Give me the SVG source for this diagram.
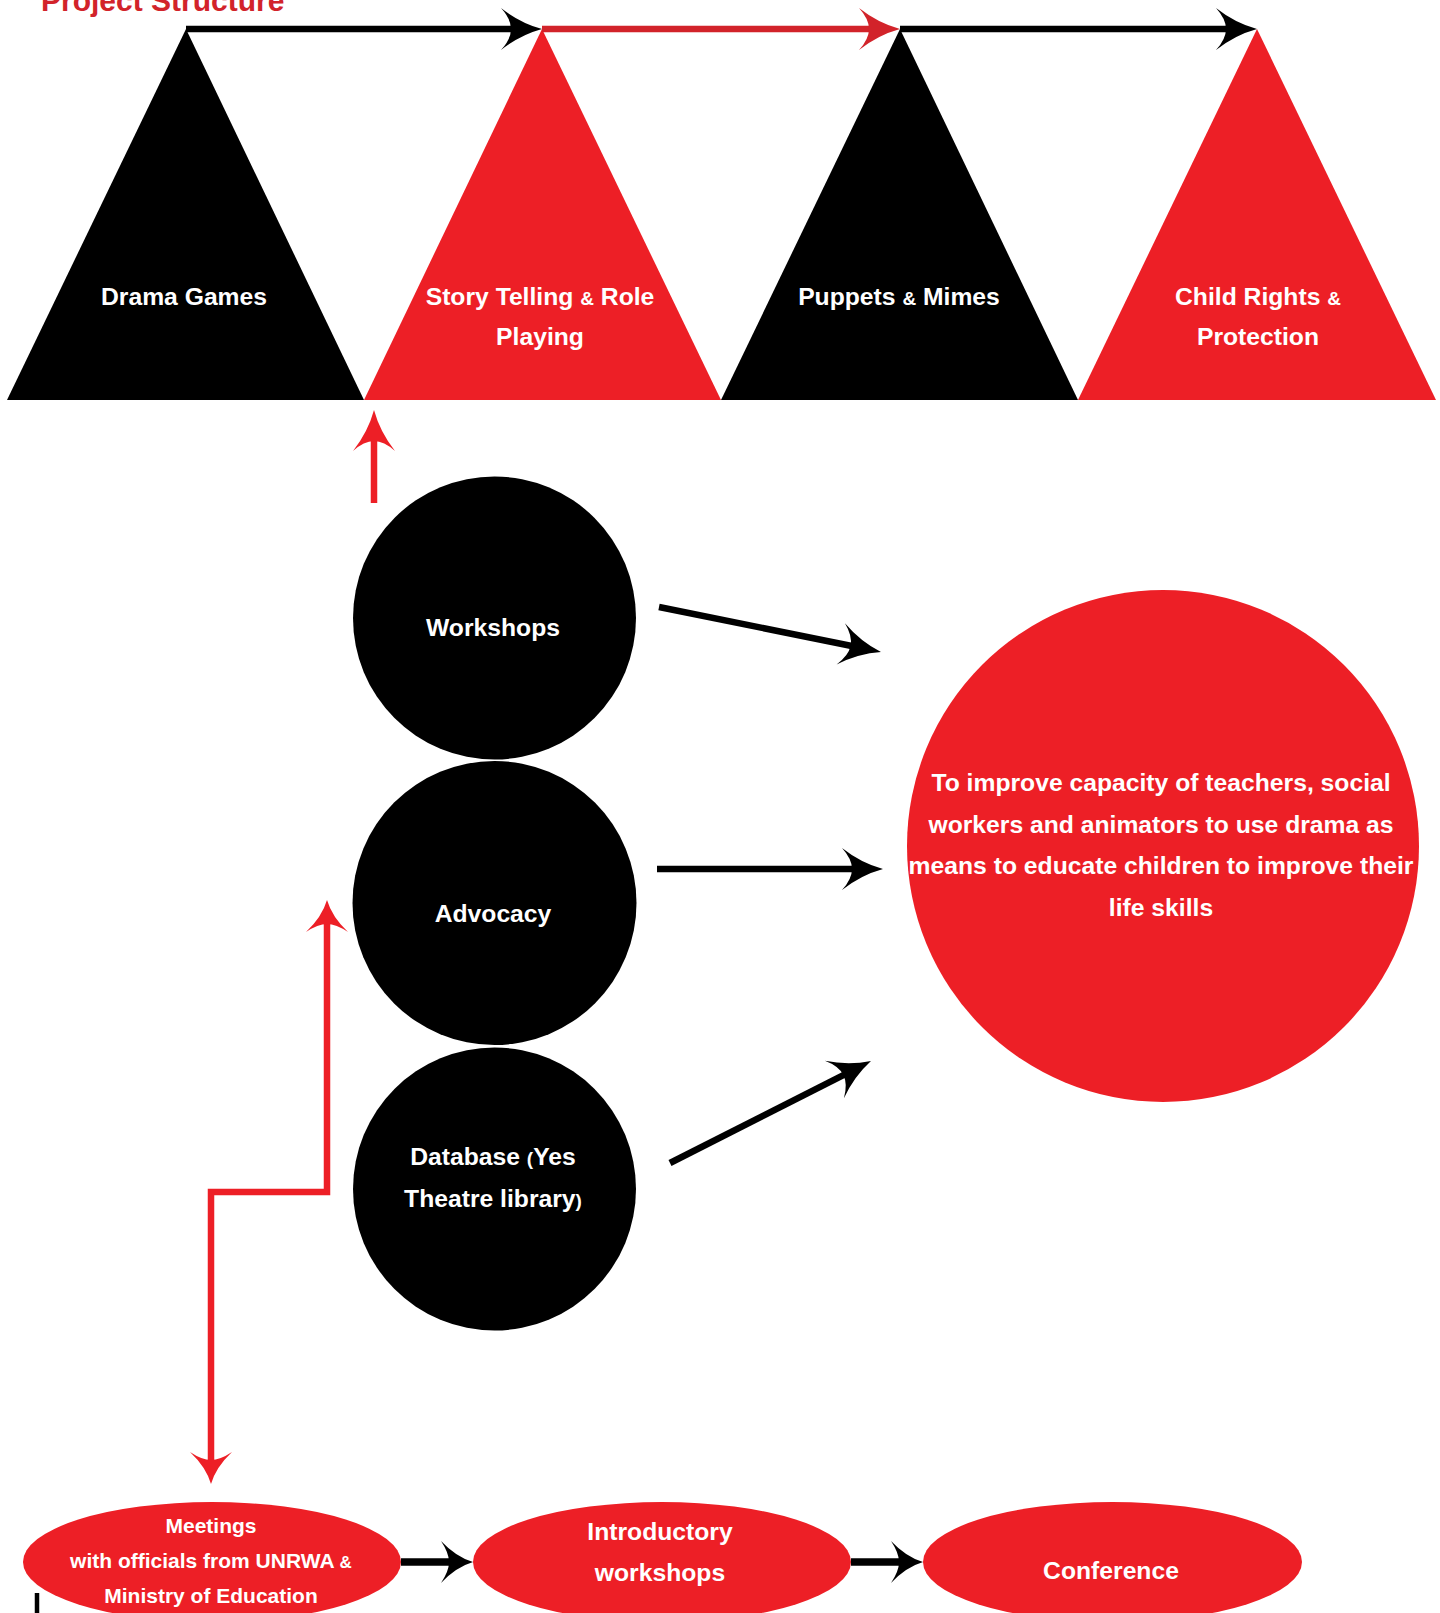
<svg xmlns="http://www.w3.org/2000/svg" width="1440" height="1613" viewBox="0 0 1440 1613">
<style>
.lbl{font-family:"Liberation Sans",Arial,Helvetica,sans-serif;font-weight:bold;fill:#ffffff;text-anchor:middle}
.t24{font-size:24.7px}
.t20{font-size:21px}
.amp{font-size:19px}
.red{fill:#ed1f26}
.blk{fill:#000000}
.ln{fill:none;stroke-linecap:butt;stroke-linejoin:miter}
</style>
<defs>
<marker id="hb" markerUnits="userSpaceOnUse" orient="auto-start-reverse" refX="-26" refY="0" markerWidth="60" markerHeight="60" overflow="visible">
<path d="M0,0 Q-22,-6 -41,-21 Q-31,-10 -31,0 Q-31,10 -41,21 Q-22,6 0,0 Z" fill="#000"/>
</marker>
<marker id="hr" markerUnits="userSpaceOnUse" orient="auto-start-reverse" refX="-26" refY="0" markerWidth="60" markerHeight="60" overflow="visible">
<path d="M0,0 Q-22,-6 -41,-21 Q-31,-10 -31,0 Q-31,10 -41,21 Q-22,6 0,0 Z" fill="#ed1f26"/>
</marker>
<marker id="hd" markerUnits="userSpaceOnUse" orient="auto-start-reverse" refX="-26" refY="0" markerWidth="60" markerHeight="60" overflow="visible">
<path d="M0,0 Q-22,-6 -41,-21 Q-31,-10 -31,0 Q-31,10 -41,21 Q-22,6 0,0 Z" fill="#d2232a"/>
</marker>
<marker id="sb" markerUnits="userSpaceOnUse" orient="auto-start-reverse" refX="-20" refY="0" markerWidth="60" markerHeight="60" overflow="visible">
<path d="M0,0 Q-17,-5 -32,-21 Q-24,-9 -24,0 Q-24,9 -32,21 Q-17,5 0,0 Z" fill="#000"/>
</marker>
<marker id="sr" markerUnits="userSpaceOnUse" orient="auto-start-reverse" refX="-20" refY="0" markerWidth="60" markerHeight="60" overflow="visible">
<path d="M0,0 Q-17,-5 -32,-21 Q-24,-9 -24,0 Q-24,9 -32,21 Q-17,5 0,0 Z" fill="#ed1f26"/>
</marker>
</defs>
<rect width="1440" height="1613" fill="#ffffff"/>

<text id="title" x="41" y="11" font-family="'Liberation Sans',Arial,sans-serif" font-weight="bold" font-size="30" fill="#d2232a">Project Structure</text>

<g id="drama-games">
<polygon class="blk" points="186,29 364,400 7,400"/>
<text class="lbl t24" x="184" y="305">Drama Games</text>
</g>
<g id="story-telling">
<polygon class="red" points="542,29 721,400 364,400"/>
<text class="lbl t24" x="540" y="305">Story Telling <tspan class="amp">&amp;</tspan> Role</text>
<text class="lbl t24" x="540" y="345">Playing</text>
</g>
<g id="puppets">
<polygon class="blk" points="900,29 1078,400 721,400"/>
<text class="lbl t24" x="899" y="305">Puppets <tspan class="amp">&amp;</tspan> Mimes</text>
</g>
<g id="child-rights">
<polygon class="red" points="1257,29 1436,400 1078,400"/>
<text class="lbl t24" x="1258" y="305">Child Rights <tspan class="amp">&amp;</tspan></text>
<text class="lbl t24" x="1258" y="345">Protection</text>
</g>

<g id="workshops">
<circle class="blk" cx="494.5" cy="618" r="141.5"/>
<text class="lbl t24" x="493" y="636">Workshops</text>
</g>
<g id="advocacy">
<circle class="blk" cx="494.5" cy="903" r="142"/>
<text class="lbl t24" x="493" y="922">Advocacy</text>
</g>
<g id="database">
<circle class="blk" cx="494.5" cy="1189" r="141.5"/>
<text class="lbl t24" x="493" y="1165">Database <tspan class="amp">(</tspan>Yes</text>
<text class="lbl t24" x="493" y="1207">Theatre library<tspan class="amp">)</tspan></text>
</g>

<g id="goal">
<circle class="red" cx="1163" cy="846" r="256"/>
<text class="lbl t24" x="1161" y="791">To improve capacity of teachers, social</text>
<text class="lbl t24" x="1161" y="833">workers and animators to use drama as</text>
<text class="lbl t24" x="1161" y="874">means to educate children to improve their</text>
<text class="lbl t24" x="1161" y="916">life skills</text>
</g>

<g id="meetings">
<ellipse class="red" cx="212" cy="1562" rx="189" ry="60"/>
<text class="lbl t20" x="211" y="1533">Meetings</text>
<text class="lbl t20" x="211" y="1568">with officials from UNRWA <tspan font-size="17">&amp;</tspan></text>
<text class="lbl t20" x="211" y="1603">Ministry of Education</text>
</g>
<g id="introductory">
<ellipse class="red" cx="662" cy="1562" rx="189" ry="60"/>
<text class="lbl t24" x="660" y="1540">Introductory</text>
<text class="lbl t24" x="660" y="1581">workshops</text>
</g>
<g id="conference">
<ellipse class="red" cx="1112.5" cy="1562" rx="189.5" ry="60"/>
<text class="lbl t24" x="1111" y="1579">Conference</text>
</g>

<g id="connectors">
<line class="ln" x1="186" y1="29" x2="516" y2="29" stroke="#000" stroke-width="6.5" marker-end="url(#hb)"/>
<line class="ln" x1="542" y1="29" x2="874" y2="29" stroke="#d2232a" stroke-width="6.5" marker-end="url(#hd)"/>
<line class="ln" x1="900" y1="29" x2="1231" y2="29" stroke="#000" stroke-width="6.5" marker-end="url(#hb)"/>
<line class="ln" x1="374" y1="503" x2="374" y2="436" stroke="#ed1f26" stroke-width="6.5" marker-end="url(#hr)"/>
<line class="ln" x1="659" y1="607" x2="855.5" y2="646.8" stroke="#000" stroke-width="6.5" marker-end="url(#hb)"/>
<line class="ln" x1="657" y1="869" x2="857" y2="869" stroke="#000" stroke-width="6.5" marker-end="url(#hb)"/>
<line class="ln" x1="670" y1="1163" x2="847.8" y2="1072.8" stroke="#000" stroke-width="6.5" marker-end="url(#hb)"/>
<path class="ln" d="M327,920 V1192 H211 V1464" stroke="#ed1f26" stroke-width="6.5" marker-start="url(#sr)" marker-end="url(#sr)"/>
<line class="ln" x1="401" y1="1562" x2="453" y2="1562" stroke="#000" stroke-width="7.5" marker-end="url(#sb)"/>
<line class="ln" x1="851" y1="1562" x2="903" y2="1562" stroke="#000" stroke-width="7.5" marker-end="url(#sb)"/>
<line class="ln" x1="37" y1="1593" x2="37" y2="1613" stroke="#000" stroke-width="4.5"/>
</g>
</svg>
